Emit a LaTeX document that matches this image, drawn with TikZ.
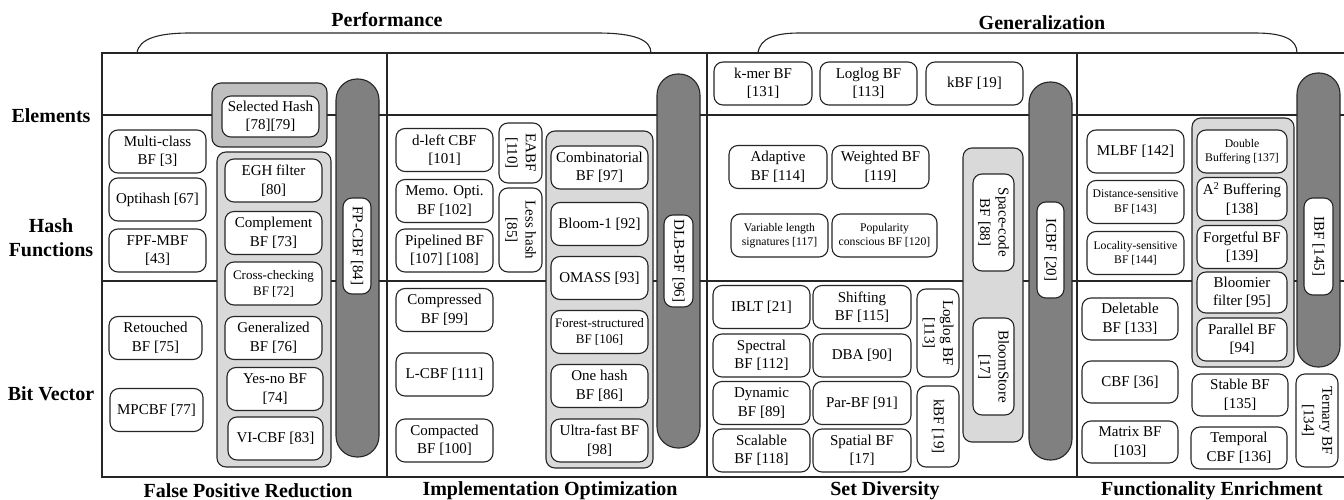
\documentclass[tikz,border=0pt]{standalone}
\usepackage{fontspec}
\setmainfont{Liberation Serif}
\usetikzlibrary{positioning}
\definecolor{grpfill}{HTML}{D9D9D9}
\definecolor{selfill}{HTML}{BFBFBF}
\definecolor{pillfill}{HTML}{808080}
\tikzset{%
  tbox/.style = {
    draw = black!85,
    line width = 1.1pt,
    rounded corners = 9pt,
    fill = white,
    align = center,
    inner sep = 1pt,
    minimum width = 97pt,
    minimum height = 43pt,
    font = \fontsize{15}{18.5}\selectfont,
  },
  vbox/.style = {
    tbox,
    rotate = -90,
  },
  group/.style = {
    draw = black!85,
    line width = 1.1pt,
    rounded corners = 9pt,
    fill = #1,
  },
  group/.default = {grpfill},
  pill/.style = {
    draw = black!85,
    line width = 1.1pt,
    fill = pillfill,
    rounded corners = 21pt,
    minimum width = 43pt,
  },
  fsmall/.style = {
    font = \fontsize{13}{16}\selectfont,
  },
  fsmaller/.style = {
    font = \fontsize{11.7}{14.3}\selectfont,
  },
  rowlabel/.style = {
    font = \fontsize{20}{24}\selectfont\bfseries,
    align = center,
  },
  gridline/.style = {
    draw = black!85,
    line width = 1.3pt,
  },
}

\begin{document}
\begin{tikzpicture}[x=1pt, y=-1pt]
\useasboundingbox (0,0) rectangle (1344,500);

% grid
\coordinate (nw) at (102,53);
\coordinate (se) at (1346,477);
\draw[gridline] (nw) rectangle (se);
\draw[gridline] (102,115) -- (1346,115);
\draw[gridline] (102,281) -- (1346,281);
\draw[gridline] (387,53) -- (387,477);
\draw[gridline] (707,53) -- (707,477);
\draw[gridline] (1077,53) -- (1077,477);

% braces on top
\draw[gridline, line width=1.1pt] (137,53) .. controls (139,38) and (160,33) .. (190,33)
  -- (597,33) .. controls (635,33) and (651,40) .. (651,53);
\draw[gridline, line width=1.1pt] (758,53) .. controls (760,38) and (775,33) .. (800,33)
  -- (1255,33) .. controls (1285,33) and (1297,40) .. (1297,53);
\node(perf) [rowlabel] at (387,20) {Performance};
\node(genr) [rowlabel] at (1042,23) {Generalization};

% row and column labels
\node(elem) [rowlabel] at (51,116) {Elements};
\node(hash) [rowlabel] at (51,238) {Hash\\Functions};
\node(bits) [rowlabel] at (51,394) {Bit Vector};
\node(fpr)  [rowlabel] at (248,491) {False Positive Reduction};
\node(impl) [rowlabel] at (550,491) {Implementation Optimization};
\node(sdiv) [rowlabel] at (885,491) {Set Diversity};
\node(func) [rowlabel] at (1212,491) {Functionality Enrichment};

% groups and pills
\node(gsel) [group=selfill, minimum width=115pt, minimum height=64pt] at (269.5,115) {};
\node(gfpr) [group, minimum width=114pt, minimum height=315pt] at (274,309.5) {};
\node(pfpr) [pill, minimum height=378pt] at (357.5,268) {};
\node(gimp) [group, minimum width=107pt, minimum height=337pt] at (599.5,299.5) {};
\node(pimp) [pill, minimum height=374pt] at (678.5,261) {};
\node(gset) [group, minimum width=60pt, minimum height=294pt] at (993,295) {};
\node(pset) [pill, minimum height=378pt] at (1050.5,271) {};
\node(gfun) [group, minimum width=102pt, minimum height=249pt] at (1243,242.5) {};
\node(pfun) [pill, minimum height=294pt] at (1318.5,220) {};

% false positive reduction
\node(mclass) [tbox] at (157.5,151.5) {Multi-class\\BF [3]};
\node(optih)  [tbox] at (157.5,199.5) {Optihash [67]};
\node(fpfmbf) [tbox] at (157.5,250.5) {FPF-MBF\\{[43]}};
\node(retou)  [tbox, minimum width=93pt] at (155.5,338) {Retouched\\BF [75]};
\node(mpcbf)  [tbox, minimum width=93pt] at (156.5,410) {MPCBF [77]};
\node(selh)   [tbox, minimum height=41pt] at (270.5,116.5) {Selected Hash\\{[78][79]}};
\node(egh)    [tbox] at (273.5,180.5) {EGH filter\\{[80]}};
\node(compl)  [tbox] at (273.5,233) {Complement\\BF [73]};
\node(cross)  [tbox, fsmall] at (273.5,283.5) {Cross-checking\\BF [72]};
\node(genbf)  [tbox] at (273.5,338) {Generalized\\BF [76]};
\node(yesno)  [tbox, minimum width=96pt] at (275,389) {Yes-no BF\\{[74]}};
\node(vicbf)  [tbox, minimum width=95pt] at (275.5,438.5) {VI-CBF [83]};
\node(fpcbf)  [vbox, minimum width=96pt, minimum height=28pt] at (357,246) {FP-CBF [84]};

% implementation optimization
\node(dleft)  [tbox] at (444.5,150) {d-left CBF\\{[101]}};
\node(memo)   [tbox] at (444.5,201) {Memo. Opti.\\BF [102]};
\node(pipe)   [tbox] at (444.5,250.5) {Pipelined BF\\{[107] [108]}};
\node(eabf)   [vbox, minimum width=60pt, minimum height=43pt] at (520.5,153) {EABF\\{[110]}};
\node(lessh)  [vbox, minimum width=84pt, minimum height=43pt] at (520.5,230) {Less hash\\{[85]}};
\node(combi)  [tbox] at (599.5,167.5) {Combinatorial\\BF [97]};
\node(bloom1) [tbox] at (599.5,224) {Bloom-1 [92]};
\node(omass)  [tbox] at (599.5,278) {OMASS [93]};
\node(forest) [tbox, fsmall] at (599.5,332) {Forest-structured\\BF [106]};
\node(onehsh) [tbox] at (599.5,386) {One hash\\BF [86]};
\node(ultra)  [tbox] at (599.5,440.5) {Ultra-fast BF\\{[98]}};
\node(dlbbf)  [vbox, minimum width=92pt, minimum height=29pt] at (678.5,261) {DLB-BF [96]};
\node(compr)  [tbox] at (444.5,310) {Compressed\\BF [99]};
\node(lcbf)   [tbox] at (444.5,374.5) {L-CBF [111]};
\node(compa)  [tbox] at (444.5,440.5) {Compacted\\BF [100]};

% set diversity
\node(kmer)   [tbox, minimum width=98pt] at (763,83.5) {k-mer BF\\{[131]}};
\node(loglga) [tbox] at (868.5,83.5) {Loglog BF\\{[113]}};
\node(kbfa)   [tbox] at (974.5,83.5) {kBF [19]};
\node(adapt)  [tbox, minimum width=98pt] at (778,167) {Adaptive\\BF [114]};
\node(weigh)  [tbox] at (880.5,167) {Weighted BF\\{[119]}};
\node(varlen) [tbox, fsmaller] at (779.5,235.5) {Variable length\\signatures [117]};
\node(popul)  [tbox, fsmaller, minimum width=105pt] at (884.5,235.5) {Popularity\\conscious BF [120]};
\node(space)  [vbox, minimum width=97pt, minimum height=41pt] at (993.5,222.5) {Space-code\\BF [88]};
\node(bstore) [vbox, minimum width=97pt, minimum height=41pt] at (993.5,366.5) {BloomStore\\{[17]}};
\node(icbf)   [vbox, minimum width=96pt, minimum height=27pt] at (1050.5,250) {ICBF [20]};
\node(iblt)   [tbox] at (761.5,307) {IBLT [21]};
\node(shift)  [tbox, minimum width=98pt] at (862,307) {Shifting\\BF [115]};
\node(spect)  [tbox] at (761.5,355.5) {Spectral\\BF [112]};
\node(dba)    [tbox, minimum width=98pt] at (862,355.5) {DBA [90]};
\node(dynbf)  [tbox] at (761.5,403) {Dynamic\\BF [89]};
\node(parbf)  [tbox, minimum width=98pt] at (862,403) {Par-BF [91]};
\node(scal)   [tbox] at (761.5,450.5) {Scalable\\BF [118]};
\node(spat)   [tbox, minimum width=98pt] at (862,450.5) {Spatial BF\\{[17]}};
\node(loglgb) [vbox, minimum width=88pt, minimum height=42pt] at (938,333) {Loglog BF\\{[113]}};
\node(kbfb)   [vbox, minimum width=81pt, minimum height=42pt] at (938,426.5) {kBF [19]};

% functionality enrichment
\node(mlbf)   [tbox] at (1135.5,151.5) {MLBF [142]};
\node(dist)   [tbox, fsmaller] at (1135.5,202) {Distance-sensitive\\BF [143]};
\node(local)  [tbox, fsmaller] at (1135.5,253) {Locality-sensitive\\BF [144]};
\node(dbuf)   [tbox, fsmaller, minimum width=90pt] at (1242,151.5) {Double\\Buffering [137]};
\node(abuf)   [tbox, minimum width=90pt] at (1242,199) {A\textsuperscript{2} Buffering\\{[138]}};
\node(forget) [tbox, minimum width=90pt] at (1242,247) {Forgetful BF\\{[139]}};
\node(bloomr) [tbox, minimum width=90pt, minimum height=41pt] at (1242,292.5) {Bloomier\\filter [95]};
\node(paral)  [tbox, minimum width=90pt] at (1242,339.5) {Parallel BF\\{[94]}};
\node(ibf)    [vbox, minimum width=97pt, minimum height=29pt] at (1318.5,246.5) {IBF [145]};
\node(delet)  [tbox, minimum width=96pt, minimum height=42pt] at (1130,319) {Deletable\\BF [133]};
\node(cbf)    [tbox, minimum width=96pt, minimum height=42pt] at (1130,382) {CBF [36]};
\node(matrix) [tbox, minimum width=96pt, minimum height=42pt] at (1130,442) {Matrix BF\\{[103]}};
\node(stable) [tbox, minimum width=96pt, minimum height=42pt] at (1240,395) {Stable BF\\{[135]}};
\node(tempo)  [tbox, minimum width=96pt, minimum height=42pt] at (1239,448) {Temporal\\CBF [136]};
\node(terna)  [vbox, minimum width=93pt, minimum height=42pt] at (1317,420.5) {Ternary BF\\{[134]}};
\end{tikzpicture}
\end{document}
